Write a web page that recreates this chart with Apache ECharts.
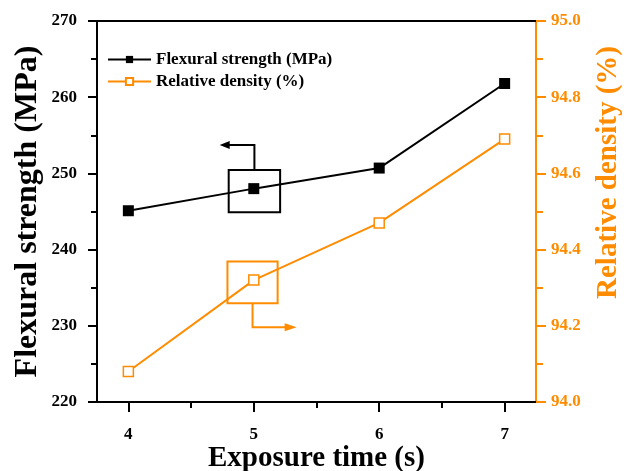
<!DOCTYPE html>
<html>
<head>
<meta charset="utf-8">
<script src="https://cdn.jsdelivr.net/npm/echarts@6/dist/echarts.min.js"></script>
<style>html,body{margin:0;padding:0;background:#fff}#c{width:628px;height:471px}</style>
</head>
<body>
<div id="c"></div>
<script>
var exposureTimes = [4, 5, 6, 7];
var flexuralStrength = [245.1, 248.0, 250.7, 261.8];
var relativeDensity = [94.08, 94.32, 94.47, 94.69];
var xTicks = [4, 5, 6, 7];
var xMinorTicks = [4.5, 5.5, 6.5];
var seriesNames = ['Flexural strength (MPa)', 'Relative density (%)'];

var ORANGE = '#ff8c00';
var FONT = '"Liberation Serif", "Times New Roman", serif';

var chart = echarts.init(document.getElementById('c'));
function pairs(xs, ys){ return xs.map(function(x,i){ return [x, ys[i]]; }); }

var option = {
  animation: false,
  backgroundColor: '#fff',
  grid: { left: 97, top: 21, right: 92, bottom: 69, containLabel: false, outerBoundsMode: 'none' },
  legend: {
    orient: 'vertical', left: 107, top: 51, itemGap: 5, padding: 0,
    itemWidth: 43, itemHeight: 9,
    textStyle: { fontFamily: FONT, fontWeight: 'bold', fontSize: 17, color: '#000' },
    data: seriesNames
  },
  xAxis: [
    {
      type: 'value', min: 3.75, max: 7.25, position: 'bottom',
      name: 'Exposure time (s)', nameLocation: 'middle', nameGap: 42, nameMoveOverlap: false,
      nameTextStyle: { fontFamily: FONT, fontWeight: 'bold', fontSize: 29, color: '#000' },
      axisLine: { show: true, lineStyle: { color: '#000', width: 2 } },
      axisTick: { show: true, customValues: xTicks, length: 10, lineStyle: { color: '#000', width: 2 } },
      axisLabel: { customValues: xTicks, margin: 24, fontFamily: FONT, fontWeight: 'bold', fontSize: 17, color: '#000' },
      splitLine: { show: false }
    },
    {
      type: 'value', min: 3.75, max: 7.25, position: 'bottom',
      axisLine: { show: false },
      axisTick: { show: true, customValues: xMinorTicks, length: 6, lineStyle: { color: '#000', width: 2 } },
      axisLabel: { show: false }, splitLine: { show: false }
    },
    {
      type: 'value', min: 3.75, max: 7.25, position: 'top',
      axisLine: { show: true, lineStyle: { color: '#000', width: 2 } },
      axisTick: { show: false }, axisLabel: { show: false }, splitLine: { show: false }
    }
  ],
  yAxis: [
    {
      type: 'value', min: 220, max: 270, interval: 10, position: 'left',
      name: 'Flexural strength (MPa)', nameLocation: 'middle', nameGap: 53, nameMoveOverlap: false,
      nameTextStyle: { fontFamily: FONT, fontWeight: 'bold', fontSize: 32, color: '#000' },
      axisLine: { show: true, lineStyle: { color: '#000', width: 2 } },
      axisTick: { show: true, length: 9, lineStyle: { color: '#000', width: 2 } },
      minorTick: { show: true, splitNumber: 2, length: 6, lineStyle: { color: '#000', width: 2 } },
      axisLabel: { margin: 20, fontFamily: FONT, fontWeight: 'bold', fontSize: 17, color: '#000' },
      splitLine: { show: false }
    },
    {
      type: 'value', min: 94, max: 95, interval: 0.2, position: 'right',
      name: 'Relative density (%)', nameLocation: 'middle', nameGap: 58, nameRotate: 90, nameMoveOverlap: false,
      nameTextStyle: { fontFamily: FONT, fontWeight: 'bold', fontSize: 29, color: ORANGE, padding: [0, 0, 0, 78] },
      axisLine: { show: true, lineStyle: { color: ORANGE, width: 2 } },
      axisTick: { show: true, length: 10, lineStyle: { color: ORANGE, width: 2 } },
      minorTick: { show: true, splitNumber: 2, length: 7, lineStyle: { color: ORANGE, width: 2 } },
      axisLabel: { margin: 15, fontFamily: FONT, fontWeight: 'bold', fontSize: 17, color: ORANGE,
        formatter: function(v){ return v.toFixed(1); } },
      splitLine: { show: false }
    }
  ],
  series: [
    {
      name: seriesNames[0], type: 'line', xAxisIndex: 0, yAxisIndex: 0,
      data: pairs(exposureTimes, flexuralStrength),
      symbol: 'rect', symbolSize: 11,
      lineStyle: { color: '#000', width: 2 },
      itemStyle: { color: '#000', borderColor: '#000', borderWidth: 0 }
    },
    {
      name: seriesNames[1], type: 'line', xAxisIndex: 0, yAxisIndex: 1,
      data: pairs(exposureTimes, relativeDensity),
      symbol: 'rect', symbolSize: 10,
      lineStyle: { color: ORANGE, width: 2 },
      itemStyle: { color: '#fff', borderColor: ORANGE, borderWidth: 1.5 }
    }
  ]
};
chart.setOption(option);

// Annotation boxes with arrows, positioned from data coordinates
function px(x, y, yi){ return chart.convertToPixel({ xAxisIndex: 0, yAxisIndex: yi }, [x, y]); }
var b1a = px(4.80, 250.45, 0), b1b = px(5.21, 244.9, 0);
var b2a = px(4.79, 94.369, 1), b2b = px(5.19, 94.259, 1);
var c1 = (b1a[0] + b1b[0]) / 2, c2 = (b2a[0] + b2b[0]) / 2;
var graphics = [
  { type: 'rect', shape: { x: b1a[0], y: b1a[1], width: b1b[0]-b1a[0], height: b1b[1]-b1a[1] },
    style: { fill: 'none', stroke: '#000', lineWidth: 2 } },
  { type: 'polyline', shape: { points: [[c1, b1a[1]], [c1, b1a[1]-25], [b1a[0]-2, b1a[1]-25]] },
    style: { fill: 'none', stroke: '#000', lineWidth: 2 } },
  { type: 'polygon', shape: { points: [[b1a[0]-9, b1a[1]-25], [b1a[0]+1, b1a[1]-29], [b1a[0]+1, b1a[1]-21]] },
    style: { fill: '#000' } },
  { type: 'rect', shape: { x: b2a[0], y: b2a[1], width: b2b[0]-b2a[0], height: b2b[1]-b2a[1] },
    style: { fill: 'none', stroke: ORANGE, lineWidth: 2 } },
  { type: 'polyline', shape: { points: [[c2, b2b[1]], [c2, b2b[1]+24], [b2b[0]+8, b2b[1]+24]] },
    style: { fill: 'none', stroke: ORANGE, lineWidth: 2 } },
  { type: 'polygon', shape: { points: [[b2b[0]+19, b2b[1]+24], [b2b[0]+7, b2b[1]+20], [b2b[0]+7, b2b[1]+28]] },
    style: { fill: ORANGE } }
];
chart.setOption({ graphic: graphics });
</script>
</body>
</html>
